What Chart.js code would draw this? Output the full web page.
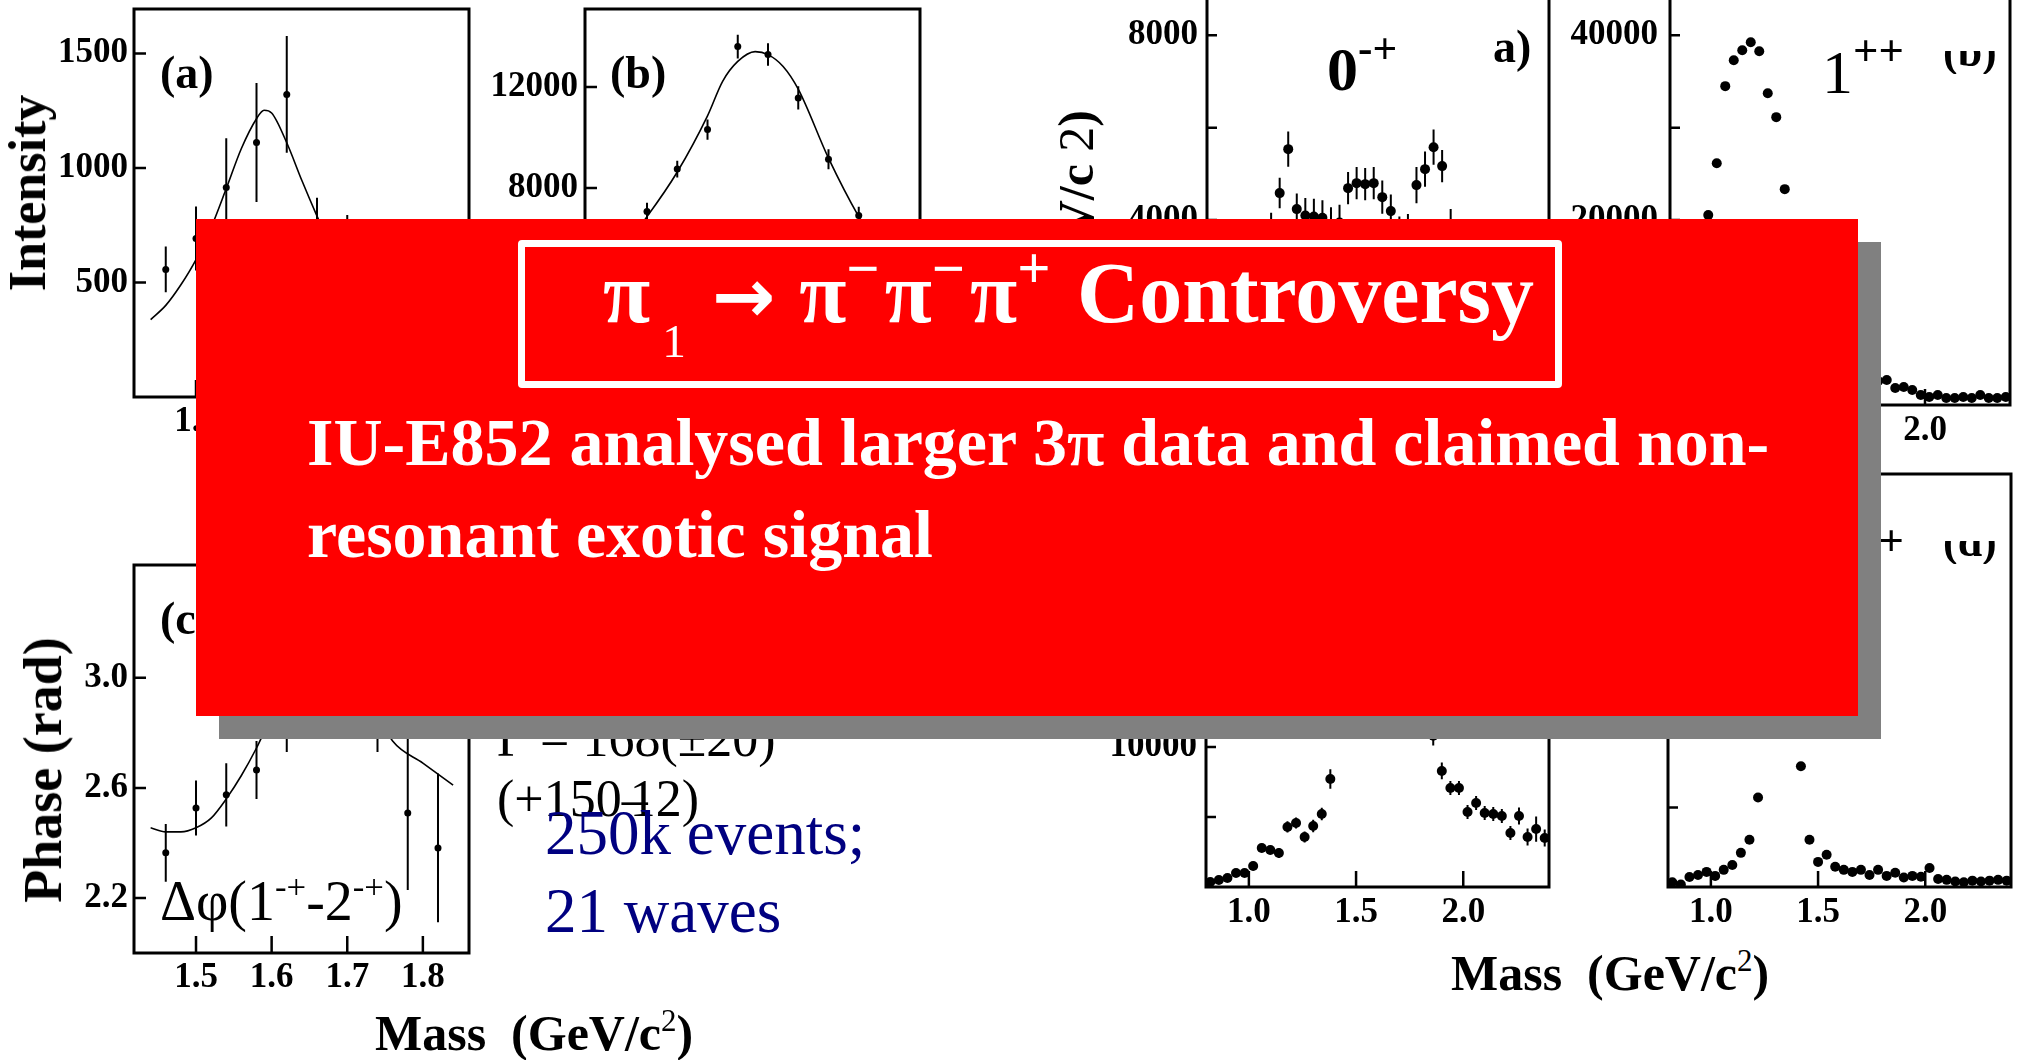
<!DOCTYPE html>
<html>
<head>
<meta charset="utf-8">
<title>π1 → π−π−π+ Controversy</title>
<script src="https://cdn.jsdelivr.net/npm/chart.js@4.4.1/dist/chart.umd.min.js"></script>
<style>
  html, body { margin: 0; padding: 0; background: #fff; }
  body { width: 2019px; height: 1060px; position: relative; overflow: hidden;
         font-family: 'Liberation Serif', 'Times New Roman', serif; color: #000; }
  .panel { position: absolute; z-index: 1; }
  .txt { position: absolute; white-space: nowrap; line-height: 1; z-index: 2; }
  .b { font-weight: bold; }
  .rot { transform: translate(-50%, -50%) rotate(-90deg); }
  .sup { font-size: .62em; vertical-align: .62em; line-height: 0; }
  .tsup { font-size: .68em; vertical-align: .58em; line-height: 0; margin-right: 5px; }
  .sub { font-size: .55em; font-weight: normal; vertical-align: -.75em; line-height: 0; }
  .arrow { font-family: 'DejaVu Sans', sans-serif; font-size: .88em; line-height: 0; }
  .cut { clip-path: inset(48% 0 0 0); }
  #redBox { position: absolute; left: 196px; top: 219px; width: 1662px; height: 497px;
            background: #ff0000; box-shadow: 23px 23px 0 #808080; z-index: 10; }
  #titleFrame { position: absolute; left: 322px; top: 21px; width: 1044px; height: 148px;
                box-sizing: border-box; border: 7px solid #fff; border-radius: 4px; }
  .white { color: #fff; z-index: 12; }
  .navy { color: #000080; }
</style>
</head>
<body>

<div class="panel" id="pA"><canvas></canvas></div>
<div class="panel" id="pB"><canvas></canvas></div>
<div class="panel" id="pC"><canvas></canvas></div>
<div class="panel" id="p0mp"><canvas></canvas></div>
<div class="panel" id="p1pp"><canvas></canvas></div>
<div class="panel" id="p2mp"><canvas></canvas></div>
<div class="panel" id="p2pp"><canvas></canvas></div>

<!-- axis titles and panel labels -->
<div class="txt b rot" style="left:28px; top:193px; font-size:52px">Intensity</div>
<div class="txt b rot" style="left:43px; top:770px; font-size:54px">Phase (rad)</div>
<div class="txt b rot" style="left:1076px; top:410px; width:600px; text-align:right; font-size:50px">Events / (40 MeV/c <span style="font-weight:normal">2</span>)</div>
<div class="txt b" style="left:160px; top:50px; font-size:46px">(a)</div>
<div class="txt b" style="left:610px; top:50px; font-size:46px">(b)</div>
<div class="txt b" style="left:160px; top:596px; font-size:46px">(c)</div>
<div class="txt" style="left:160px; top:873px; font-size:56px">Δφ(1<span class="sup">-+</span>-2<span class="sup">-+</span>)</div>
<div class="txt b" style="left:1327px; top:38px; font-size:62px">0<span class="sup" style="font-size:.7em">-+</span></div>
<div class="txt b" style="left:1493px; top:24px; font-size:46px">a)</div>
<div class="txt" style="left:1822px; top:41px; font-size:62px">1<span class="sup b" style="font-size:.72em">++</span></div>
<div class="txt b cut" style="left:1943px; top:30px; font-size:44px">(b)</div>
<div class="txt" style="left:1822px; top:531px; font-size:62px">2<span class="sup b" style="font-size:.72em">++</span></div>
<div class="txt b cut" style="left:1943px; top:520px; font-size:44px">(d)</div>
<div class="txt b" style="left:375px; top:1008px; font-size:50px">Mass&nbsp; (GeV/c<span class="sup" style="font-weight:normal">2</span>)</div>
<div class="txt b" style="left:1451px; top:948px; font-size:50px">Mass&nbsp; (GeV/c<span class="sup" style="font-weight:normal">2</span>)</div>

<!-- fit results beside the phase panel -->
<div class="txt" style="left:497px; top:713px; font-size:52px">Γ = 168(±20)</div>
<div class="txt" style="left:497px; top:773px; font-size:52px">(+150<span style="margin-right:-18px">–</span>12)</div>
<div class="txt navy" style="left:545px; top:802px; font-size:63px">250k events;</div>
<div class="txt navy" style="left:545px; top:880px; font-size:63px">21 waves</div>

<div id="redBox"><div id="titleFrame"></div></div>
<div class="txt b white" style="left:603px; top:250px; font-size:86px">π<span class="sub" style="margin-left:12px">1</span><span class="arrow" style="margin:0 24px 0 26px">→</span>π<span class="tsup">−</span>π<span class="tsup">−</span>π<span class="tsup">+</span> Controversy</div>
<div class="txt b white" style="left:307px; top:408px; font-size:68px">IU-E852 analysed larger 3π data and claimed non-</div>
<div class="txt b white" style="left:307px; top:500px; font-size:68px">resonant exotic signal</div>

<script>
// mass bins of the 1-+ / 2-+ fit panels (GeV/c^2)
const fitMass = [1.46, 1.50, 1.54, 1.58, 1.62, 1.66, 1.70, 1.74, 1.78, 1.82];

// (a) 1-+ intensity
const intensityA = [557, 692, 915, 1111, 1321, 740, 650, 520, 440, 400];
const intensityAErr = [100, 140, 215, 260, 255, 130, 145, 130, 110, 100];
const curveMassA = [1.44, 1.46, 1.48, 1.50, 1.52, 1.54, 1.56, 1.58, 1.59, 1.60, 1.62, 1.64, 1.66, 1.68, 1.70, 1.74, 1.78, 1.82, 1.84];
const curveA = [338, 400, 490, 600, 740, 910, 1085, 1215, 1252, 1240, 1110, 945, 790, 645, 525, 390, 320, 280, 265];

// (b) 2-+ intensity
const intensityB = [5400, 7060, 8745, 10314, 13608, 13294, 11569, 9137, 6900, 5000];
const intensityBErr = [330, 350, 330, 400, 470, 450, 460, 400, 350, 320];
const curveMassB = [1.44, 1.46, 1.48, 1.50, 1.54, 1.58, 1.60, 1.62, 1.643, 1.66, 1.68, 1.70, 1.74, 1.78, 1.82, 1.84];
const curveB = [4700, 5400, 6100, 6860, 8630, 10860, 12230, 13020, 13410, 13290, 12820, 11920, 9180, 6860, 5000, 4300];

// (c) phase difference 1-+ vs 2-+
const phaseC = [2.364, 2.527, 2.575, 2.665, 2.90, 3.00, 2.98, 2.88, 2.509, 2.382];
const phaseCErr = [0.105, 0.10, 0.115, 0.105, 0.17, 0.16, 0.16, 0.15, 0.28, 0.27];
const curveMassC = [1.44, 1.46, 1.48, 1.50, 1.52, 1.54, 1.56, 1.58, 1.60, 1.62, 1.66, 1.70, 1.73, 1.76, 1.80, 1.82, 1.84];
const curveC = [2.455, 2.44, 2.44, 2.455, 2.49, 2.56, 2.645, 2.745, 2.86, 2.95, 3.05, 3.02, 2.92, 2.77, 2.69, 2.65, 2.61];

// partial-wave intensities, 40 MeV bins from 0.82 to 2.38
const massR = [0.82, 0.86, 0.90, 0.94, 0.98, 1.02, 1.06, 1.10, 1.14, 1.18,
               1.22, 1.26, 1.30, 1.34, 1.38, 1.42, 1.46, 1.50, 1.54, 1.58,
               1.62, 1.66, 1.70, 1.74, 1.78, 1.82, 1.86, 1.90, 1.94, 1.98,
               2.02, 2.06, 2.10, 2.14, 2.18, 2.22, 2.26, 2.30, 2.34, 2.38];
const wave0mp = [800, 1200, 1600, 2100, 2600, 3000, 3400, 3800, 4584, 5535,
                 4238, 4100, 4080, 4050, 3900, 3950, 4692, 4800, 4778, 4800,
                 4497, 4195, 3700, 3750, 4757, 5103, 5578, 5168, 3900, 3600,
                 3300, 3000, 2800, 2600, 2400, 2200, 2000, 1900, 1800, 1700];
const wave0mpErr = [200, 220, 250, 280, 300, 320, 340, 360, 330, 380,
                    340, 380, 380, 380, 380, 380, 350, 350, 350, 350,
                    360, 360, 380, 380, 390, 380, 380, 350, 340, 330,
                    320, 310, 300, 290, 280, 270, 260, 250, 240, 230];
const wave1pp = [2000, 5000, 9000, 14500, 20540, 26160, 34490, 37300, 38380, 39240,
                 38270, 33730, 31140, 23350, 17000, 12500, 9000, 7000, 5500, 4500,
                 3800, 3300, 3000, 2800, 2600, 2700, 1840, 1950, 1620, 1080,
                 860, 1080, 760, 760, 860, 760, 1080, 760, 760, 860];
const wave2mp = [357, 500, 640, 1000, 1000, 1500, 2786, 2640, 2430, 4290,
                 4570, 3570, 4360, 5210, 7710, 11500, 14000, 17000, 20500, 23500,
                 25500, 26000, 24000, 20000, 16000, 12500, 10800, 8290, 7070, 7070,
                 5360, 6000, 5290, 5210, 5070, 3860, 5070, 3570, 4140, 3500];
const wave2mpErr = [150, 150, 200, 200, 250, 300, 300, 300, 350, 400,
                    400, 400, 450, 450, 700, 800, 800, 800, 900, 900,
                    900, 900, 900, 900, 800, 800, 700, 600, 500, 500,
                    500, 500, 500, 500, 500, 500, 600, 600, 900, 600];
const wave2pp = [300, 150, 630, 760, 950, 700, 1080, 1390, 2150, 2970,
                 5630, 12000, 21000, 22000, 14000, 7600, 2970, 1580, 2030, 1270,
                 1080, 950, 1080, 760, 1080, 700, 900, 600, 700, 650,
                 1200, 500, 450, 350, 300, 400, 350, 400, 450, 400];

// tick positions and which of them carry a label
const ticksFitMass = [1.5, 1.6, 1.7, 1.8];
const ticksA = [500, 1000, 1500];
const ticksB = [4000, 8000, 12000];
const ticksC = [2.2, 2.6, 3.0];
const ticksMassR = [1.0, 1.5, 2.0];
const ticks0mp = [2000, 4000, 6000, 8000];
const labels0mp = [4000, 8000];
const ticks1pp = [10000, 20000, 30000, 40000];
const labels1pp = [20000, 40000];
const ticksLower = [5000, 10000, 15000, 20000, 25000];
const labelsLower = [10000, 20000];

const FONT = "'Liberation Serif', 'Times New Roman', serif";

const pts = (xs, ys) => xs.map((x, i) => ({ x, y: ys[i] }));

// vertical error bars for datasets carrying an `errors` array
const errorBars = {
  id: 'errorBars',
  afterDatasetsDraw(chart) {
    const { ctx, scales: { x, y } } = chart;
    ctx.save();
    chart.data.datasets.forEach(ds => {
      if (!ds.errors) return;
      ctx.strokeStyle = '#000';
      ctx.lineWidth = ds.errorWidth || 2;
      ctx.beginPath();
      ds.data.forEach((p, i) => {
        const px = x.getPixelForValue(p.x);
        ctx.moveTo(px, y.getPixelForValue(p.y - ds.errors[i]));
        ctx.lineTo(px, y.getPixelForValue(p.y + ds.errors[i]));
      });
      ctx.stroke();
    });
    ctx.restore();
  }
};

// closed frame with tick marks pointing into the plot
const frameBox = {
  id: 'frameBox',
  afterDraw(chart, args, o) {
    const { ctx, chartArea: a, scales } = chart;
    ctx.save();
    ctx.strokeStyle = '#000';
    ctx.lineWidth = o.width;
    ctx.strokeRect(a.left, a.top, a.right - a.left, a.bottom - a.top);
    ctx.lineWidth = o.tickWidth;
    ctx.beginPath();
    scales.x.ticks.forEach(t => {
      const px = scales.x.getPixelForValue(t.value);
      ctx.moveTo(px, a.bottom);
      ctx.lineTo(px, a.bottom - o.xTick);
    });
    scales.y.ticks.forEach(t => {
      const py = scales.y.getPixelForValue(t.value);
      ctx.moveTo(a.left, py);
      ctx.lineTo(a.left + o.yTick, py);
    });
    ctx.stroke();
    ctx.restore();
  }
};

function axis(spec, isX, size) {
  const shown = spec.labels || spec.ticks;
  return {
    type: 'linear',
    min: spec.min,
    max: spec.max,
    grid: { display: false, drawTicks: false },
    border: { display: false },
    afterBuildTicks: s => { s.ticks = spec.ticks.map(v => ({ value: v })); },
    afterFit: s => {
      if (isX) s.height = size; else s.width = size;
      // the frame is placed exactly, so labels must not push the plot area inward
      s.paddingTop = s.paddingBottom = s.paddingLeft = s.paddingRight = 0;
    },
    ticks: {
      color: '#000',
      padding: spec.pad,
      autoSkip: false,
      maxRotation: 0,
      font: { family: FONT, size: 35, weight: 'bold' },
      callback: v => shown.includes(v) ? v.toFixed(spec.digits || 0) : ''
    }
  };
}

function makePanel(id, box, x, y, datasets, ticks) {
  const el = document.getElementById(id);
  el.style.left = (box.fx - box.l) + 'px';
  el.style.top = (box.fy - box.t) + 'px';
  el.style.width = (box.fw + box.l + box.r) + 'px';
  el.style.height = (box.fh + box.t + box.b) + 'px';
  return new Chart(el.querySelector('canvas'), {
    type: 'scatter',
    data: { datasets },
    options: {
      responsive: true,
      maintainAspectRatio: false,
      animation: false,
      devicePixelRatio: 1,
      layout: { padding: { top: box.t, right: box.r, left: 0, bottom: 0 } },
      plugins: {
        legend: { display: false },
        tooltip: { enabled: false },
        frameBox: Object.assign({ width: 3, tickWidth: 2.5 }, ticks)
      },
      scales: { x: axis(x, true, box.b), y: axis(y, false, box.l) }
    },
    plugins: [errorBars, frameBox]
  });
}

const dots = (data, errors, r) => ({
  data, errors, showLine: false, pointRadius: r, pointBorderWidth: 0,
  pointBackgroundColor: '#000', pointBorderColor: '#000'
});
const curve = data => ({
  data, showLine: true, pointRadius: 0, borderColor: '#000', borderWidth: 1.6,
  cubicInterpolationMode: 'monotone'
});

const fitX = { min: 1.418, max: 1.861, ticks: ticksFitMass, digits: 1, pad: 4 };
const massX = { min: 0.8, max: 2.4, ticks: ticksMassR, digits: 1, pad: 5 };
const leftTicks = { xTick: 17, yTick: 12 };
const rightTicks = { xTick: 16, yTick: 10 };

makePanel('pA', { fx: 134, fy: 9, fw: 335, fh: 388, l: 134, t: 9, r: 10, b: 50 },
  fitX, { min: 0, max: 1694, ticks: ticksA, pad: 6 },
  [dots(pts(fitMass, intensityA), intensityAErr, 3.5), curve(pts(curveMassA, curveA))], leftTicks);

makePanel('pB', { fx: 585, fy: 9, fw: 335, fh: 388, l: 115, t: 9, r: 10, b: 50 },
  fitX, { min: -300, max: 15100, ticks: ticksB, pad: 7 },
  [dots(pts(fitMass, intensityB), intensityBErr, 3.5), curve(pts(curveMassB, curveB))], leftTicks);

makePanel('pC', { fx: 134, fy: 565, fw: 335, fh: 388, l: 134, t: 10, r: 10, b: 50 },
  fitX, { min: 2.0, max: 3.41, ticks: ticksC, digits: 1, pad: 6 },
  [dots(pts(fitMass, phaseC), phaseCErr, 3.5), curve(pts(curveMassC, curveC))], leftTicks);

makePanel('p0mp', { fx: 1207, fy: -11, fw: 342, fh: 416, l: 150, t: 10, r: 8, b: 50 },
  massX, { min: 0, max: 9000, ticks: ticks0mp, labels: labels0mp, pad: 9 },
  [dots(pts(massR, wave0mp), wave0mpErr, 5)], rightTicks);

makePanel('p1pp', { fx: 1670, fy: -11, fw: 340, fh: 416, l: 115, t: 10, r: 6, b: 50 },
  massX, { min: 0, max: 45000, ticks: ticks1pp, labels: labels1pp, pad: 12 },
  [dots(pts(massR, wave1pp), null, 5)], rightTicks);

makePanel('p2mp', { fx: 1206, fy: 474, fw: 343, fh: 413, l: 150, t: 10, r: 8, b: 50 },
  massX, { min: 0, max: 29500, ticks: ticksLower, labels: labelsLower, pad: 9 },
  [dots(pts(massR, wave2mp), wave2mpErr, 5)], rightTicks);

makePanel('p2pp', { fx: 1668, fy: 474, fw: 343, fh: 413, l: 115, t: 10, r: 6, b: 50 },
  massX, { min: 0, max: 26000, ticks: ticksLower, labels: labelsLower, pad: 12 },
  [dots(pts(massR, wave2pp), null, 5)], rightTicks);
</script>
</body>
</html>
